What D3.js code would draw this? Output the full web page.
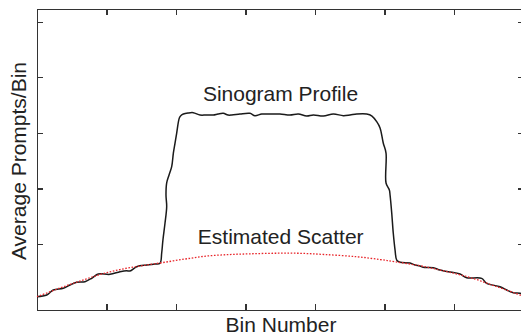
<!DOCTYPE html>
<html>
<head>
<meta charset="utf-8">
<script src="https://cdn.jsdelivr.net/npm/d3@7"></script>
<style>
  body { margin: 0; background: #fff; }
  svg { display: block; font-family: "Liberation Sans", Arial, sans-serif; }
  .axis path, .axis line { stroke: #333; stroke-width: 1.3; shape-rendering: crispEdges; }
</style>
</head>
<body>
<div class="chart"></div>
<script>
// bin positions and average prompts
const profileBins = [0, 7, 11.7, 18.9, 23.7, 28.6, 34.5, 39.6, 44.1, 52.5, 59.7, 64.5, 66.9, 71.7, 78.9, 84.9, 88.5,
  89.7, 90.6, 92.1, 93.3, 92.8, 93.3, 95, 96.9, 98.1, 99.3, 100.5, 102.4, 103.6, 105.3, 108.6, 112.4,
  117.3, 121.6, 126.8, 130.2, 134, 137.4, 140.1, 146, 153.2, 156.8, 161.7, 167.6, 174.8, 182, 188, 194,
  198.8, 206, 213.2, 220.4, 225.2, 230, 237.2, 241, 244.4, 246.8, 249.1, 251.1, 251.1, 253.5, 254,
  255.2, 256.3, 257.6, 258.8, 261.2, 268.3, 271.9, 275.5, 277.9, 285.1, 289.9, 295.9, 304.3, 309.1,
  319.9, 323.5, 333.1, 337.9, 342.7, 347.5, 350];
const profileValues = [0.52, 0.82, 1.72, 2.03, 2.62, 3.11, 3.22, 3.88, 4.6, 4.55, 5.02, 5.2, 5.14, 5.92, 6.22, 6.4, 6.53,
  8.38, 10.72, 13.78, 16.71, 18.82, 20.98, 22.42, 23.91, 26.37, 28.17, 29.97, 32.67, 33.12, 33.39, 33.57, 33.63,
  33.21, 33.21, 33.21, 33.39, 33.52, 33.21, 33.21, 33.39, 33.52, 33.09, 33.39, 33.39, 33.39, 33.21, 33.39, 33.03,
  33.21, 33.03, 33.39, 33.09, 33.21, 33.39, 33.39, 33.03, 32.01, 30.87, 28.17, 26.37, 20.98, 19.72, 18.82,
  15.58, 11.98, 8.92, 7.12, 6.71, 6.58, 6.22, 6.04, 5.81, 5.74, 5.32, 5.02, 4.6, 3.94,
  3.83, 2.93, 2.32, 1.72, 1.24, 1.13, 0.82];

const scatterBins = [0, 16.5, 30.9, 45.3, 59.7, 74.1, 89.9, 106.5, 122.3, 138.8, 153.2, 171.2, 189.2, 207.2,
  230.2, 246.8, 257.6, 275.5, 289.9, 302.2, 315.1, 325.9, 336.7, 350];
const scatterValues = [0.52, 2.08, 3.34, 4.51, 5.41, 6.04, 6.64, 7.3, 7.84, 8.11, 8.24, 8.34, 8.33, 8.11,
  7.71, 7.21, 6.82, 6.1, 5.32, 4.6, 3.7, 2.75, 1.81, 0.6];

const binTicks = [0, 50, 100, 150, 200, 250, 300, 350];
const valueTicks = [10, 20, 30, 40, 50];

const width = 521, height = 334;
const x0 = 37, x1 = 523.5, yTop = 9.3, yBottom = 310;

const x = d3.scaleLinear().domain([0, 350]).range([x0, x1]);
const y = d3.scaleLinear().domain([-1.87, 52.23]).range([yBottom, yTop]);

const svg = d3.select(".chart").append("svg")
    .attr("width", width)
    .attr("height", height);

// frame with inward ticks on all four sides
svg.append("g").attr("class", "axis")
    .attr("transform", "translate(0," + yBottom + ")")
    .call(d3.axisBottom(x).tickValues(binTicks).tickSizeInner(-6).tickSizeOuter(0).tickFormat(""));
svg.append("g").attr("class", "axis")
    .attr("transform", "translate(0," + yTop + ")")
    .call(d3.axisTop(x).tickValues(binTicks).tickSizeInner(-6).tickSizeOuter(0).tickFormat(""));
svg.append("g").attr("class", "axis")
    .attr("transform", "translate(" + x0 + ",0)")
    .call(d3.axisLeft(y).tickValues(valueTicks).tickSizeInner(-6).tickSizeOuter(0).tickFormat(""));
svg.append("g").attr("class", "axis")
    .attr("transform", "translate(" + x1 + ",0)")
    .call(d3.axisRight(y).tickValues(valueTicks).tickSizeInner(-6).tickSizeOuter(0).tickFormat(""));

const scatter = scatterBins.map((b, i) => [b, scatterValues[i]]);
const profile = profileBins.map((b, i) => [b, profileValues[i]]);

const line = d3.line()
    .x(d => x(d[0]))
    .y(d => y(d[1]))
    .curve(d3.curveCatmullRom.alpha(0.5));

svg.append("path")
    .datum(profile)
    .attr("fill", "none")
    .attr("stroke", "#1a1a1a")
    .attr("stroke-width", 1.5)
    .attr("d", line);

svg.append("path")
    .datum(scatter)
    .attr("fill", "none")
    .attr("stroke", "#e8262b")
    .attr("stroke-width", 1.3)
    .attr("stroke-dasharray", "1.6,1.6")
    .attr("d", line);

// labels
svg.append("text")
    .attr("x", 280.5).attr("y", 101)
    .attr("text-anchor", "middle")
    .style("font-size", "21px").style("fill", "#222")
    .text("Sinogram Profile");

svg.append("text")
    .attr("x", 280.7).attr("y", 244)
    .attr("text-anchor", "middle")
    .style("font-size", "21px").style("fill", "#222")
    .text("Estimated Scatter");

svg.append("text")
    .attr("x", 281).attr("y", 331.5)
    .attr("text-anchor", "middle")
    .style("font-size", "21px").style("fill", "#222")
    .text("Bin Number");

svg.append("text")
    .attr("transform", "translate(26,161) rotate(-90)")
    .attr("text-anchor", "middle")
    .style("font-size", "21px").style("fill", "#222")
    .text("Average Prompts/Bin");
</script>
</body>
</html>
